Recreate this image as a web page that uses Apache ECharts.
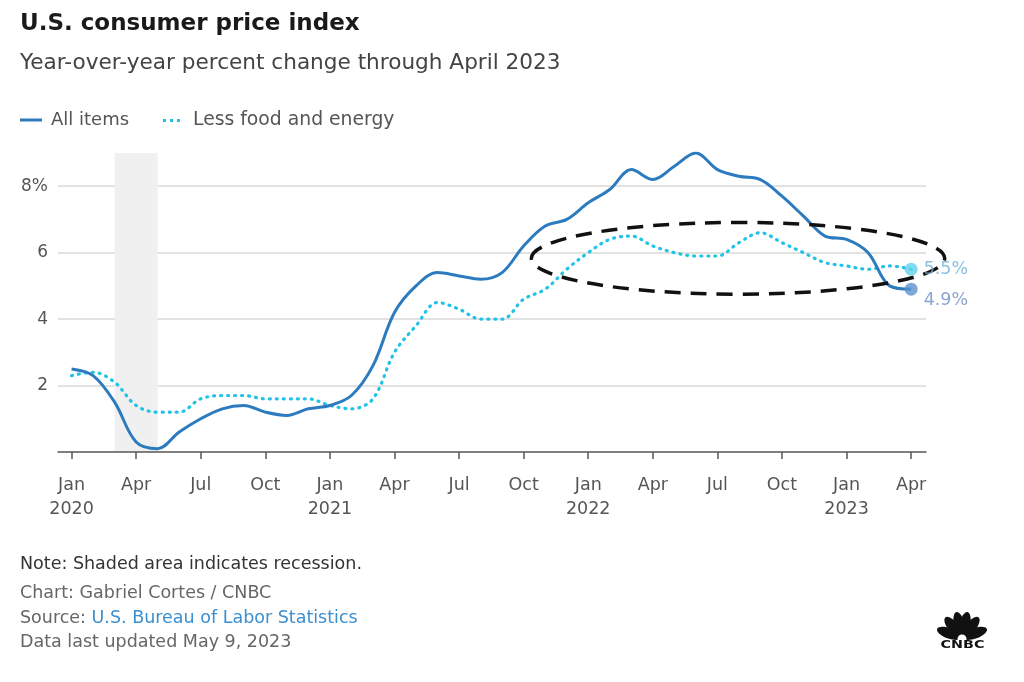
<!DOCTYPE html>
<html>
<head>
<meta charset="utf-8">
<script src="https://cdn.jsdelivr.net/npm/echarts@6/dist/echarts.min.js"></script>
<style>
html,body{margin:0;padding:0;background:#fff;}
#c{width:1024px;height:682px;}
</style>
</head>
<body>
<div id="c"></div>
<script>
// ---- data ----
const months = ['Jan','Feb','Mar','Apr','May','Jun','Jul','Aug','Sep','Oct','Nov','Dec'];
const startYear = 2020;
const allItems = [
  2.5, 2.3, 1.5, 0.3, 0.1, 0.6, 1.0, 1.3, 1.4, 1.2, 1.1, 1.3,
  1.4, 1.7, 2.6, 4.2, 5.0, 5.4, 5.3, 5.2, 5.4, 6.2, 6.8, 7.0,
  7.5, 7.9, 8.5, 8.2, 8.6, 9.0, 8.5, 8.3, 8.2, 7.7, 7.1, 6.5,
  6.4, 6.0, 5.0, 4.9
];
const lessFoodEnergy = [
  2.3, 2.4, 2.1, 1.4, 1.2, 1.2, 1.6, 1.7, 1.7, 1.6, 1.6, 1.6,
  1.4, 1.3, 1.6, 3.0, 3.8, 4.5, 4.3, 4.0, 4.0, 4.6, 4.9, 5.5,
  6.0, 6.4, 6.5, 6.2, 6.0, 5.9, 5.9, 6.3, 6.6, 6.3, 6.0, 5.7,
  5.6, 5.5, 5.6, 5.5
];
const tickMonths = [0,3,6,9,12,15,18,21,24,27,30,33,36,39];
const yTicks = [2,4,6,8];
const recession = [2, 4];            // month indices (Mar 2020 - May 2020)
const ellipseSpec = [30.96, 5.83, 9.6, 1.08]; // center month, center value, x radius (months), y radius (value)

const FONT = '"DejaVu Sans"';
const chart = echarts.init(document.getElementById('c'), null, {renderer:'canvas'});

const seriesAll = allItems.map((v,i)=>[i,v]);
const seriesCore = lessFoodEnergy.map((v,i)=>[i,v]);
const last = allItems.length - 1;

// CNBC peacock feathers (decorative logo)
const featherAngles = [160, 129, 102, 78, 51, 20];
const feathers = featherAngles.map(a => {
  const r = a * Math.PI / 180;
  return {type: 'ellipse', x: 26 + 13.5 * Math.cos(r), y: 27 - 13.5 * Math.sin(r), rotation: r,
          shape: {cx: 0, cy: 0, rx: 13, ry: 5.3}, style: {fill: '#111'}};
});

const option = {
  animation: false,
  backgroundColor: '#fff',
  textStyle: {fontFamily: FONT},
  title: [
    {text: 'U.S. consumer price index', left: 15, top: 8,
     textStyle: {fontFamily: FONT, fontWeight: 'bold', fontSize: 23, color: '#1a1a1a'}},
    {text: 'Year-over-year percent change through April 2023', left: 15, top: 47,
     textStyle: {fontFamily: FONT, fontWeight: 'normal', fontSize: 21.6, color: '#444'}}
  ],
  legend: [
    {left: 15, top: 106, itemWidth: 22, itemHeight: 3, icon: 'rect',
     data: ['All items'],
     textStyle: {fontFamily: FONT, fontSize: 18, color: '#555', padding: [0, 0, 0, 4]}},
    {left: 158, top: 106, itemWidth: 17, itemHeight: 3,
     icon: 'path://M0,0h3v3h-3z M7,0h3v3h-3z M14,0h3v3h-3z',
     data: ['Less food and energy'],
     textStyle: {fontFamily: FONT, fontSize: 18.8, color: '#555', padding: [0, 0, 0, 8]}}
  ],
  grid: {left: 58, right: 98, top: 153, bottom: 230},
  xAxis: {
    type: 'value', min: -0.63, max: 39.69,
    splitLine: {show: false},
    axisLine: {show: true, lineStyle: {color: '#555', width: 1.5}},
    axisTick: {show: true, customValues: tickMonths, length: 7, lineStyle: {color: '#555', width: 1.5}},
    axisLabel: {
      customValues: tickMonths, margin: 21, fontSize: 17.5, color: '#555', lineHeight: 24, fontFamily: FONT,
      formatter: v => {
        const i = Math.round(v);
        const m = months[i % 12];
        return (i % 12 === 0) ? m + '\n' + (startYear + i/12) : m;
      }
    }
  },
  yAxis: {
    type: 'value', min: 0, max: 9, interval: 2,
    axisLine: {show: false}, axisTick: {show: false},
    splitLine: {show: true, showMinLine: false, showMaxLine: false, lineStyle: {color: '#d9d9d9', width: 1.5}},
    axisLabel: {
      customValues: yTicks, margin: 10, fontSize: 17, color: '#555', fontFamily: FONT,
      formatter: v => v === 8 ? v + '%' : String(v)
    }
  },
  series: [
    {
      name: 'All items', type: 'line', data: seriesAll, smooth: 0.35, symbol: 'none', z: 3,
      lineStyle: {color: '#2c7bbf', width: 3}, itemStyle: {color: '#2c7bbf'},
      markArea: {silent: true, itemStyle: {color: '#f0f0f0'}, data: [[{xAxis: recession[0]}, {xAxis: recession[1]}]], z: 0}
    },
    {
      name: 'Less food and energy', type: 'line', data: seriesCore, smooth: 0.35, symbol: 'none', z: 2,
      lineStyle: {color: '#1fc3e6', width: 3.2, type: [1, 6], cap: 'round'}, itemStyle: {color: '#1fc3e6'}
    },
    {
      type: 'custom', z: 5, silent: true, clip: false,
      data: [ellipseSpec],
      renderItem: (params, api) => {
        const c = api.coord([api.value(0), api.value(1)]);
        const s = api.size([api.value(2), api.value(3)]);
        return {type: 'ellipse', shape: {cx: c[0], cy: c[1], rx: s[0], ry: s[1]},
          style: {fill: null, stroke: '#111', lineWidth: 3.5, lineDash: [16, 10]}};
      }
    },
    {
      type: 'scatter', z: 6, silent: true, symbolSize: 13,
      data: [
        {value: [last, lessFoodEnergy[last]], itemStyle: {color: '#5fd3ec'},
         label: {show: true, position: 'right', distance: 6, formatter: lessFoodEnergy[last] + '%', color: '#6fb0d4', fontSize: 17.5, fontFamily: FONT}},
        {value: [last, allItems[last]], itemStyle: {color: '#5b93cc'},
         label: {show: true, position: 'right', distance: 6, offset: [0, 11], formatter: allItems[last] + '%', color: '#6b8fc4', fontSize: 17.5, fontFamily: FONT}}
      ]
    }
  ],
  graphic: [
    {type: 'text', left: 20, top: 555, style: {text: 'Note: Shaded area indicates recession.', fill: '#333', font: '17.5px ' + FONT}},
    {type: 'text', left: 20, top: 584, style: {text: 'Chart: Gabriel Cortes / CNBC', fill: '#666', font: '17.5px ' + FONT}},
    {type: 'text', left: 20, top: 609, style: {
      text: '{a|Source: }{b|U.S. Bureau of Labor Statistics}', font: '17.5px ' + FONT,
      rich: {a: {fill: '#666', fontSize: 17.5, fontFamily: 'DejaVu Sans'}, b: {fill: '#3a8fd0', fontSize: 17.5, fontFamily: 'DejaVu Sans'}}}},
    {type: 'text', left: 20, top: 633, style: {text: 'Data last updated May 9, 2023', fill: '#666', font: '17.5px ' + FONT}},
    // CNBC logo
    {type: 'group', x: 936, y: 611, children: feathers.concat([
      {type: 'circle', shape: {cx: 26, cy: 28, r: 4.5}, style: {fill: '#fff'}},
      {type: 'text', x: 26.5, y: 29, scaleX: 1.3, originX: 0, originY: 0,
       style: {text: 'CNBC', fill: '#111', font: 'bold 11px "DejaVu Sans"', textAlign: 'center'}}
    ])}
  ]
};
chart.setOption(option);
</script>
</body>
</html>
